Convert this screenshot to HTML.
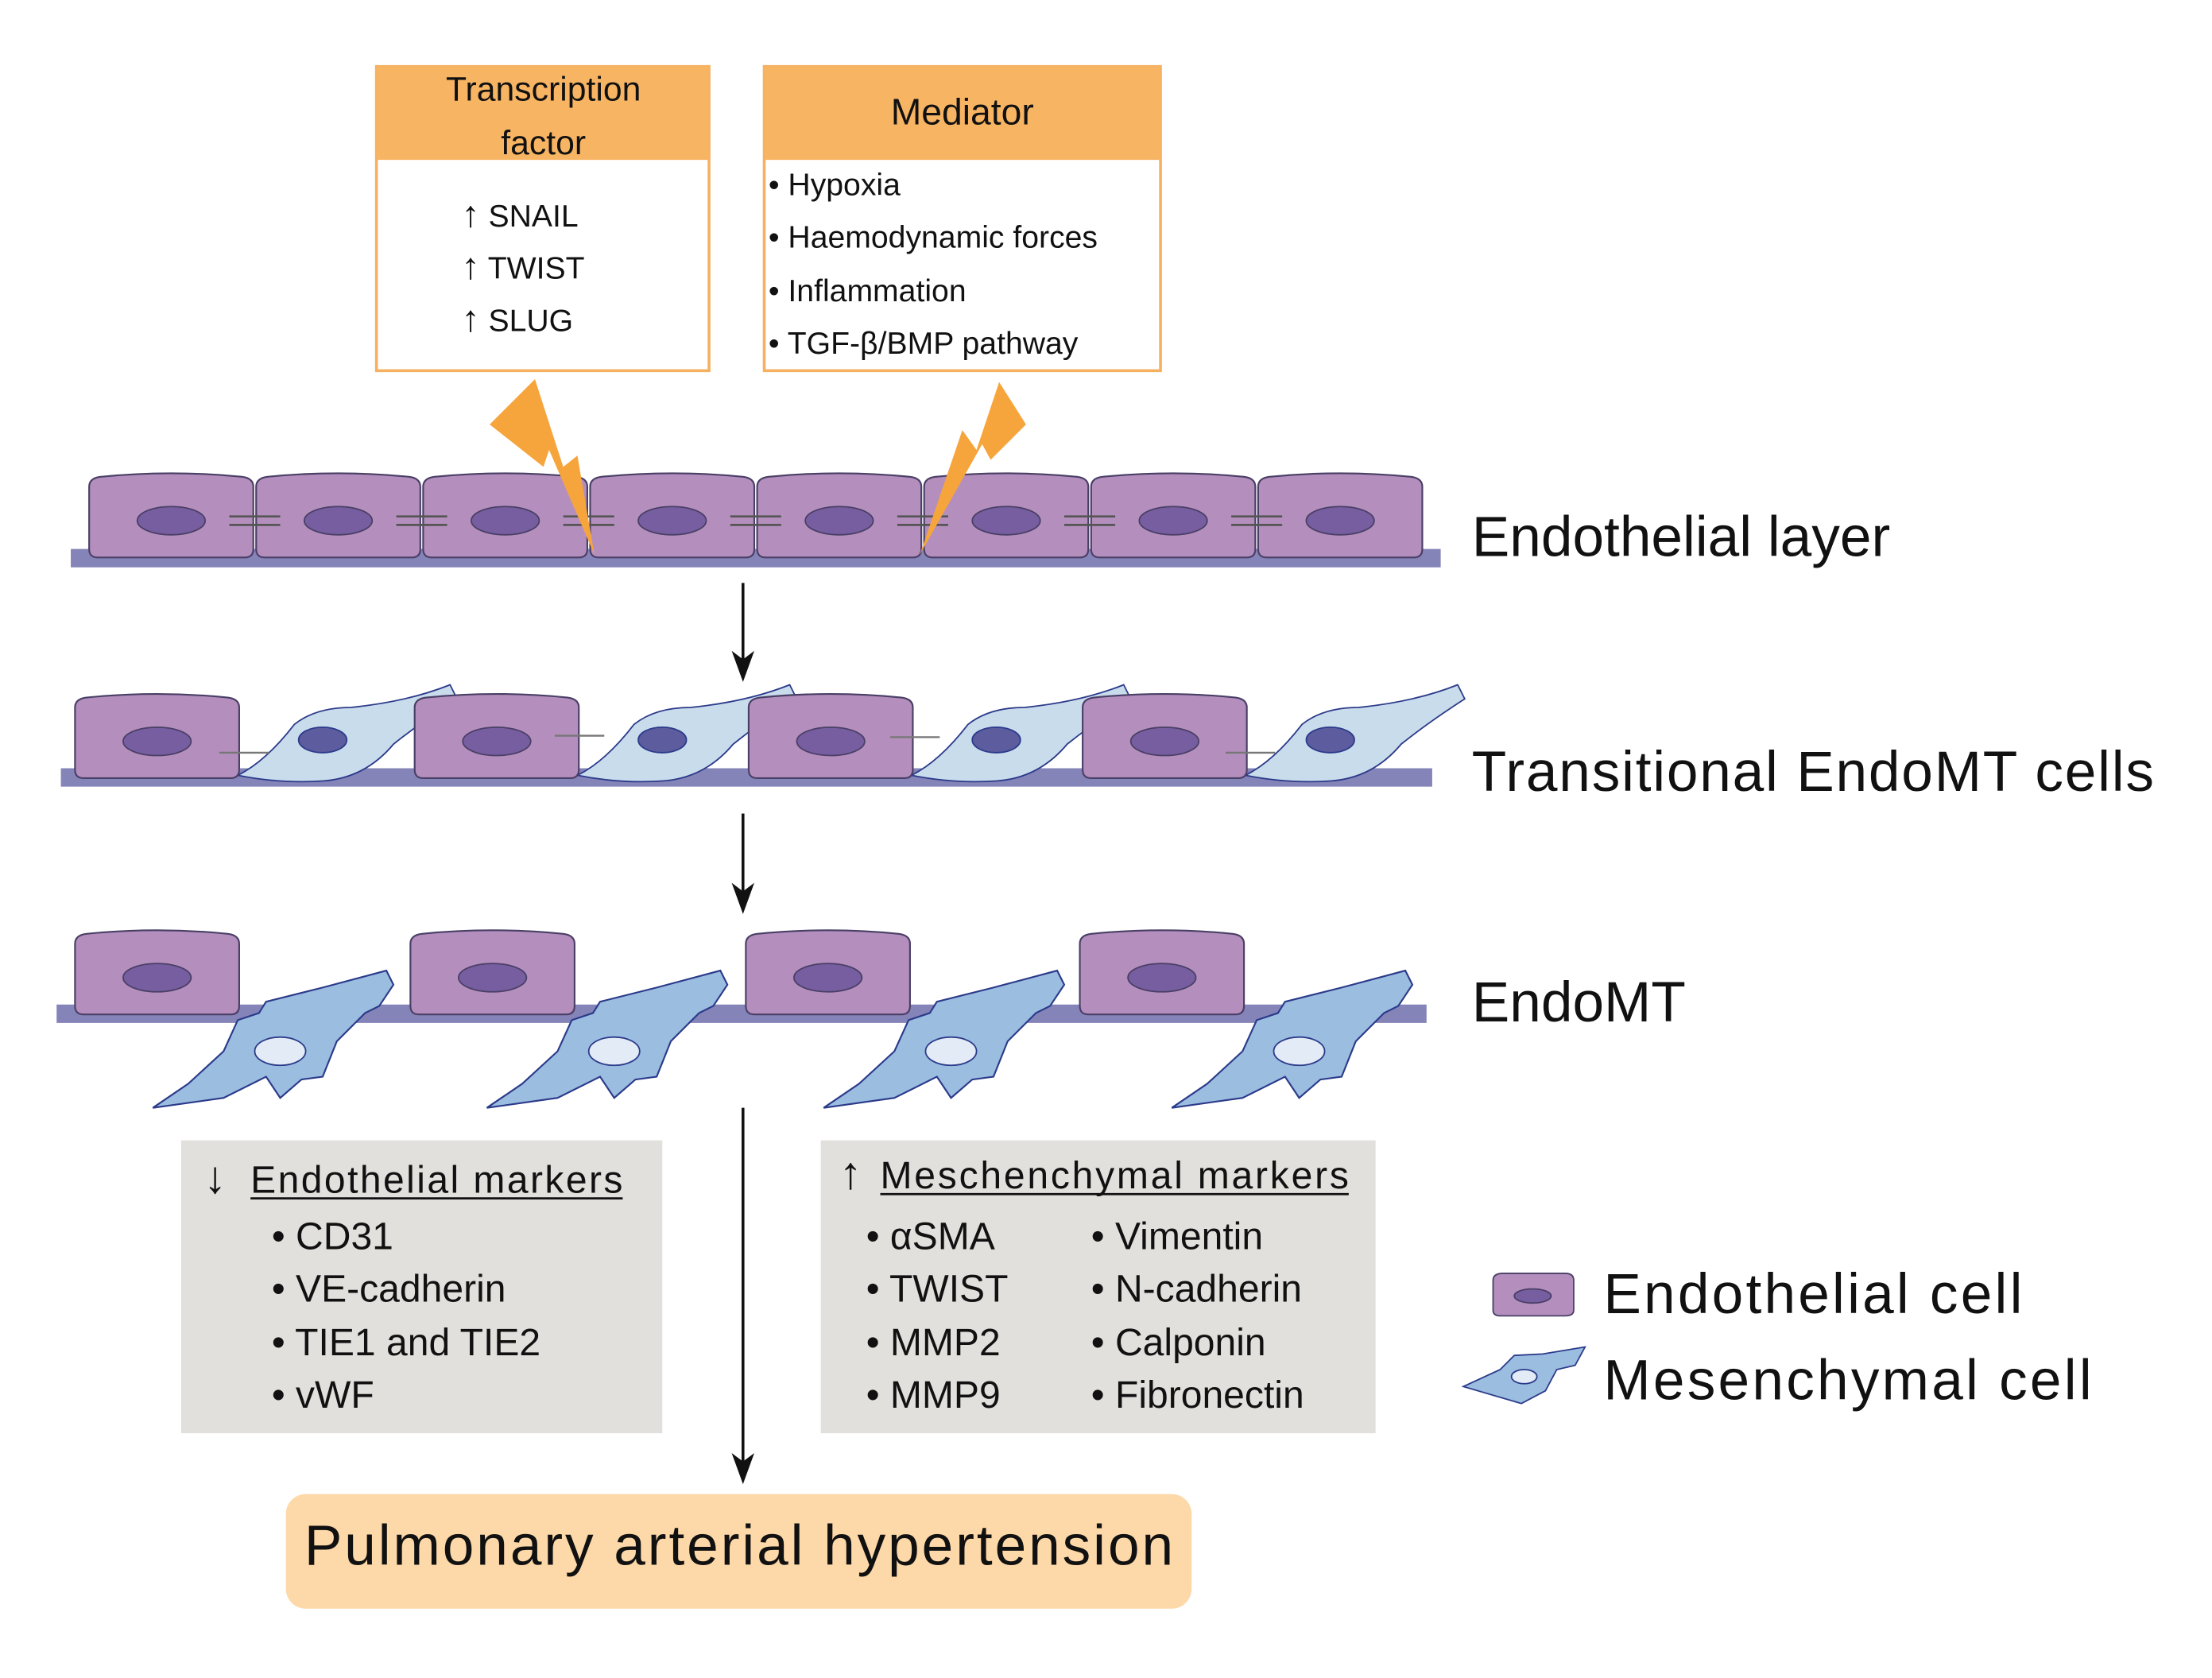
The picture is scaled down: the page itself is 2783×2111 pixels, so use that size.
<!DOCTYPE html>
<html><head><meta charset="utf-8"><style>
html,body{margin:0;padding:0;background:#fff;}
svg{display:block;}
text{font-family:"Liberation Sans",sans-serif;fill:#111;}
</style></head><body>
<svg width="2783" height="2111" viewBox="0 0 1563 1186" preserveAspectRatio="none" xmlns="http://www.w3.org/2000/svg">
<defs>
<g id="ec">
<path d="M0,6 Q0,0 8,-1 Q58,-6 108,-1 Q116,0 116,6 L116,50 Q116,56 110,56 L6,56 Q0,56 0,50 Z" fill="#b48fbd" stroke="#4a3f66" stroke-width="1.2"/>
</g>
<g id="mc">
<path d="M-10,20 L-40,35 L-90,42 L-65,25 L-40,2 L-30,-20 L-15,-25 L-10,-33 L30,-43 L75,-55 L80,-45 L70,-30 L60,-25 L40,-5 L30,20 L15,22 L0,35 Z" fill="#9bbde0" stroke="#2b3a8a" stroke-width="1.2"/>
<ellipse cx="0" cy="2" rx="18" ry="10" fill="#e3ebf6" stroke="#2b3a8a" stroke-width="1"/>
</g>
<g id="tc">
<path d="M0,58 Q20,48 40,22 Q55,10 80,10 Q120,6 150,-6 L155,4 Q130,20 110,36 Q90,60 60,62 Q30,64 0,58 Z" fill="#c9dcec" stroke="#2b3a8a" stroke-width="1"/>
<ellipse cx="60" cy="33" rx="17" ry="9" fill="#5c5c9e" stroke="#2b3a8a"/>
</g>
</defs>

<rect x="266" y="47" width="235" height="215" fill="#fff" stroke="#f6b060" stroke-width="2"/>
<rect x="266" y="47" width="235" height="66" fill="#f7b463"/>
<text x="384" y="71" font-size="24" text-anchor="middle">Transcription</text>
<text x="384" y="109" font-size="24" text-anchor="middle">factor</text>
<text x="326" y="160" font-size="22"><tspan font-size="26">↑</tspan> SNAIL</text>
<text x="326" y="197" font-size="22"><tspan font-size="26">↑</tspan> TWIST</text>
<text x="326" y="234" font-size="22"><tspan font-size="26">↑</tspan> SLUG</text>

<rect x="540" y="47" width="280" height="215" fill="#fff" stroke="#f6b060" stroke-width="2"/>
<rect x="540" y="47" width="280" height="66" fill="#f7b463"/>
<text x="680" y="88" font-size="26" text-anchor="middle">Mediator</text>
<text x="543" y="138" font-size="22">• Hypoxia</text>
<text x="543" y="175" font-size="22">• Haemodynamic forces</text>
<text x="543" y="213" font-size="22">• Inflammation</text>
<text x="543" y="250" font-size="22">• TGF-β/BMP pathway</text>

<rect x="50" y="388" width="968" height="13" fill="#8584b9"/>
<g>
<use href="#ec" x="63" y="338"/><use href="#ec" x="181" y="338"/><use href="#ec" x="299" y="338"/><use href="#ec" x="417" y="338"/>
<use href="#ec" x="535" y="338"/><use href="#ec" x="653" y="338"/><use href="#ec" x="771" y="338"/><use href="#ec" x="889" y="338"/>
</g>
<g fill="#775ea0" stroke="#4a3f66" stroke-width="1">
<ellipse cx="121" cy="368" rx="24" ry="10"/><ellipse cx="239" cy="368" rx="24" ry="10"/><ellipse cx="357" cy="368" rx="24" ry="10"/><ellipse cx="475" cy="368" rx="24" ry="10"/>
<ellipse cx="593" cy="368" rx="24" ry="10"/><ellipse cx="711" cy="368" rx="24" ry="10"/><ellipse cx="829" cy="368" rx="24" ry="10"/><ellipse cx="947" cy="368" rx="24" ry="10"/>
</g>
<g stroke="#555" stroke-width="1.5">
<path d="M162,365h36M162,371h36M280,365h36M280,371h36M398,365h36M398,371h36M516,365h36M516,371h36M634,365h36M634,371h36M752,365h36M752,371h36M870,365h36M870,371h36"/>
</g>
<polygon points="378,268 346,300 384,330 388,318 420,392 408,322 398,330" fill="#f6a53c"/>
<polygon points="706,270 725,300 700,325 694,314 650,392 680,304 690,318" fill="#f6a53c"/>
<text x="1040" y="393" font-size="40">Endothelial layer</text>

<line x1="525" y1="412" x2="525" y2="468" stroke="#111" stroke-width="2"/>
<polygon points="517,460 525,482 533,460 525,466" fill="#111"/>

<rect x="43" y="543" width="969" height="13" fill="#8584b9"/>
<use href="#tc" x="168" y="490"/><use href="#tc" x="408" y="490"/><use href="#tc" x="644" y="490"/><use href="#tc" x="880" y="490"/>
<use href="#ec" x="53" y="494"/><use href="#ec" x="293" y="494"/><use href="#ec" x="529" y="494"/><use href="#ec" x="765" y="494"/>
<g fill="#775ea0" stroke="#4a3f66"><ellipse cx="111" cy="524" rx="24" ry="10"/><ellipse cx="351" cy="524" rx="24" ry="10"/><ellipse cx="587" cy="524" rx="24" ry="10"/><ellipse cx="823" cy="524" rx="24" ry="10"/></g>
<g stroke="#777" stroke-width="1.3"><path d="M155,532h35M392,520h35M629,521h35M866,532h35"/></g>
<text x="1040" y="559" font-size="40" textLength="482">Transitional EndoMT cells</text>

<line x1="525" y1="575" x2="525" y2="632" stroke="#111" stroke-width="2"/>
<polygon points="517,624 525,646 533,624 525,630" fill="#111"/>

<rect x="40" y="710" width="968" height="13" fill="#8584b9"/>
<use href="#ec" x="53" y="661"/><use href="#ec" x="290" y="661"/><use href="#ec" x="527" y="661"/><use href="#ec" x="763" y="661"/>
<g fill="#775ea0" stroke="#4a3f66"><ellipse cx="111" cy="691" rx="24" ry="10"/><ellipse cx="348" cy="691" rx="24" ry="10"/><ellipse cx="585" cy="691" rx="24" ry="10"/><ellipse cx="821" cy="691" rx="24" ry="10"/></g>
<use href="#mc" x="198" y="741"/><use href="#mc" x="434" y="741"/><use href="#mc" x="672" y="741"/><use href="#mc" x="918" y="741"/>
<text x="1040" y="722" font-size="40">EndoMT</text>

<line x1="525" y1="783" x2="525" y2="1035" stroke="#111" stroke-width="2"/>
<polygon points="517,1027 525,1049 533,1027 525,1033" fill="#111"/>

<rect x="128" y="806" width="340" height="207" fill="#e2e0dd"/>
<text x="144" y="843" font-size="32">↓</text>
<text x="177" y="843" font-size="27" textLength="263">Endothelial markers</text>
<line x1="177" y1="847" x2="440" y2="847" stroke="#111" stroke-width="1.5"/>
<text x="192" y="883" font-size="27">• CD31</text>
<text x="192" y="920" font-size="27">• VE-cadherin</text>
<text x="192" y="958" font-size="27">• TIE1 and TIE2</text>
<text x="192" y="995" font-size="27">• vWF</text>

<rect x="580" y="806" width="392" height="207" fill="#e2e0dd"/>
<text x="593" y="840" font-size="32">↑</text>
<text x="622" y="840" font-size="27" textLength="331">Meschenchymal markers</text>
<line x1="622" y1="844" x2="953" y2="844" stroke="#111" stroke-width="1.5"/>
<text x="612" y="883" font-size="27">• αSMA</text>
<text x="612" y="920" font-size="27">• TWIST</text>
<text x="612" y="958" font-size="27">• MMP2</text>
<text x="612" y="995" font-size="27">• MMP9</text>
<text x="771" y="883" font-size="27">• Vimentin</text>
<text x="771" y="920" font-size="27">• N-cadherin</text>
<text x="771" y="958" font-size="27">• Calponin</text>
<text x="771" y="995" font-size="27">• Fibronectin</text>

<rect x="202" y="1056" width="640" height="81" rx="14" fill="#fdd8a8"/>
<text x="522" y="1106" font-size="40" text-anchor="middle" textLength="614">Pulmonary arterial hypertension</text>

<path d="M1055,905 Q1055,900 1062,900 L1106,900 Q1112,900 1112,905 L1112,926 Q1112,930 1106,930 L1060,930 Q1055,930 1055,926 Z" fill="#b48fbd" stroke="#4a3f66"/>
<ellipse cx="1083" cy="916" rx="13" ry="5" fill="#775ea0" stroke="#4a3f66"/>
<path d="M1034,980 L1060,968 L1070,958 L1090,957 L1120,952 L1113,965 L1100,968 L1092,983 L1075,992 Z" fill="#9bbde0" stroke="#2b3a8a"/>
<ellipse cx="1077" cy="973" rx="9" ry="5" fill="#e3ebf6" stroke="#2b3a8a"/>
<text x="1133" y="928" font-size="40" textLength="296">Endothelial cell</text>
<text x="1133" y="989" font-size="40" textLength="345">Mesenchymal cell</text>
</svg>
</body></html>
